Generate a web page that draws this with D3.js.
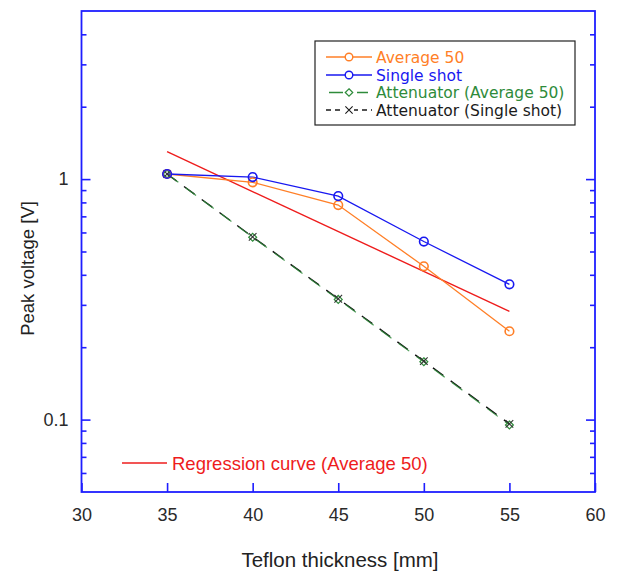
<!DOCTYPE html>
<html>
<head>
<meta charset="utf-8">
<script src="https://cdn.jsdelivr.net/npm/d3@7"></script>
<style>
  html, body { margin: 0; padding: 0; background: #fff; }
  svg { display: block; font-family: "Liberation Sans", Arial, sans-serif; }
</style>
</head>
<body>
<svg id="chart" width="617" height="572"></svg>
<script>
// Teflon thickness [mm]
const thickness = [35, 40, 45, 50, 55];
// Peak voltage [V] for each measurement series
const average50 = [1.05, 0.97, 0.78, 0.434, 0.233];
const singleShot = [1.05, 1.02, 0.85, 0.55, 0.365];
const attenuatorAverage50 = [1.05, 0.573, 0.316, 0.174, 0.095];
const attenuatorSingleShot = [1.05, 0.575, 0.318, 0.175, 0.096];
// Exponential fit to the Average 50 series (end points)
const regressionX = [35, 55];
const regressionY = [1.30, 0.282];

const xTicks = [30, 35, 40, 45, 50, 55, 60];
const yMajorTicks = [0.1, 1];
const yMinorTicks = [0.06, 0.07, 0.08, 0.09, 0.2, 0.3, 0.4, 0.5, 0.6, 0.7, 0.8, 0.9, 2, 3, 4];

const legendLabels = ["Average 50", "Single shot", "Attenuator (Average 50)", "Attenuator (Single shot)"];
const regressionLabel = "Regression curve (Average 50)";

const svg = d3.select("#chart");
const box = { left: 81.5, right: 595, top: 11, bottom: 492 };
const axisColor = "#1e1eff";

const x = d3.scaleLinear().domain([30, 60]).range([box.left, box.right]);
const y = d3.scaleLog().domain([0.05, 5]).range([box.bottom, box.top]);

const pts = (xs, ys) => xs.map((d, i) => [d, ys[i]]);
const line = d3.line().x(d => x(d[0])).y(d => y(d[1]));

// ---- series lines ----
const plot = svg.append("g");

plot.append("path").datum(pts(regressionX, regressionY))
  .attr("d", line).attr("fill", "none").attr("stroke", "#ee1c1c").attr("stroke-width", 1.4);

plot.append("path").datum(pts(thickness, attenuatorSingleShot))
  .attr("d", line).attr("fill", "none").attr("stroke", "#111").attr("stroke-width", 1.4)
  .attr("stroke-dasharray", "13,9").attr("stroke-dashoffset", 1);
plot.append("path").datum(pts(thickness, attenuatorAverage50))
  .attr("d", line).attr("fill", "none").attr("stroke", "#2e8b3a").attr("stroke-width", 1.2)
  .attr("stroke-dasharray", "13,9").attr("stroke-dashoffset", -1).attr("opacity", 0.85);

plot.append("path").datum(pts(thickness, average50))
  .attr("d", line).attr("fill", "none").attr("stroke", "#ff7f27").attr("stroke-width", 1.3);
plot.append("path").datum(pts(thickness, singleShot))
  .attr("d", line).attr("fill", "none").attr("stroke", "#1818f0").attr("stroke-width", 1.3);

// ---- markers ----
function circles(data, color) {
  plot.append("g").selectAll("circle").data(data).join("circle")
    .attr("cx", d => x(d[0])).attr("cy", d => y(d[1])).attr("r", 4.3)
    .attr("fill", "none").attr("stroke", color).attr("stroke-width", 1.6);
}
function diamonds(data, color) {
  plot.append("g").selectAll("path").data(data).join("path")
    .attr("d", d3.symbol(d3.symbolDiamond2, 40))
    .attr("transform", d => `translate(${x(d[0])},${y(d[1])})`)
    .attr("fill", "none").attr("stroke", color).attr("stroke-width", 1.2);
}
function crosses(data, color) {
  plot.append("g").selectAll("path").data(data).join("path")
    .attr("d", d3.symbol(d3.symbolX, 40))
    .attr("transform", d => `translate(${x(d[0])},${y(d[1])})`)
    .attr("fill", "none").attr("stroke", color).attr("stroke-width", 1.1);
}
diamonds(pts(thickness, attenuatorAverage50), "#2e8b3a");
crosses(pts(thickness, attenuatorSingleShot), "#333");
circles(pts(thickness, average50), "#ff7f27");
circles(pts(thickness, singleShot), "#1818f0");

// ---- frame and ticks ----
const frame = svg.append("g");
frame.append("rect")
  .attr("x", box.left).attr("y", box.top)
  .attr("width", box.right - box.left).attr("height", box.bottom - box.top)
  .attr("fill", "none").attr("stroke", axisColor).attr("stroke-width", 1.8);

const bottomAxis = d3.axisBottom(x).tickValues(xTicks).tickSize(-9).tickPadding(16)
  .tickFormat(d3.format("d"));
const gx = svg.append("g").attr("transform", `translate(0,${box.bottom})`).call(bottomAxis);
gx.select(".domain").remove();

const leftMajor = d3.axisLeft(y).tickValues(yMajorTicks).tickSize(-9).tickPadding(13)
  .tickFormat(d => d >= 1 ? d3.format("d")(d) : d3.format(".1f")(d));
const gy = svg.append("g").attr("transform", `translate(${box.left},0)`).call(leftMajor);
gy.select(".domain").remove();
const gyMinor = svg.append("g").attr("transform", `translate(${box.left},0)`)
  .call(d3.axisLeft(y).tickValues(yMinorTicks).tickSize(-5).tickFormat(""));
gyMinor.select(".domain").remove();

const gr = svg.append("g").attr("transform", `translate(${box.right},0)`)
  .call(d3.axisRight(y).tickValues(yMajorTicks).tickSize(-9).tickFormat(""));
gr.select(".domain").remove();
const grMinor = svg.append("g").attr("transform", `translate(${box.right},0)`)
  .call(d3.axisRight(y).tickValues(yMinorTicks).tickSize(-5).tickFormat(""));
grMinor.select(".domain").remove();

svg.selectAll(".tick line").attr("stroke", axisColor).attr("stroke-width", 1.6);
svg.selectAll(".tick text")
  .attr("fill", "#2a2a2a").style("font-size", "18px")
  .style("font-family", "'Liberation Sans', Arial, sans-serif");

// ---- axis titles ----
svg.append("text")
  .attr("x", 340).attr("y", 567)
  .attr("text-anchor", "middle").attr("fill", "#222")
  .style("font-size", "20.5px").text("Teflon thickness [mm]");
svg.append("text")
  .attr("transform", `translate(34,${(box.top + box.bottom) / 2 + 17}) rotate(-90)`)
  .attr("text-anchor", "middle").attr("fill", "#222")
  .style("font-size", "18.5px").text("Peak voltage [V]");

// ---- legend ----
const legend = svg.append("g");
legend.append("rect")
  .attr("x", 315).attr("y", 41).attr("width", 260).attr("height", 84)
  .attr("fill", "#fff").attr("stroke", "#222").attr("stroke-width", 1.2);

const legendColors = ["#ff7f27", "#1818f0", "#2e8b3a", "#1a1a1a"];
const rowY = [57, 75, 92.5, 110];
const sx0 = 326, sx1 = 372, sm = 349;

legendLabels.forEach((label, i) => {
  const g = legend.append("g");
  const c = legendColors[i];
  const yy = rowY[i];
  if (i < 2) {
    g.append("line").attr("x1", sx0).attr("x2", sx1).attr("y1", yy).attr("y2", yy)
      .attr("stroke", c).attr("stroke-width", 1.3);
    g.append("circle").attr("cx", sm).attr("cy", yy).attr("r", 3.8)
      .attr("fill", "#fff").attr("stroke", c).attr("stroke-width", 1.4);
  } else if (i === 2) {
    g.append("line").attr("x1", 329).attr("x2", 368).attr("y1", yy).attr("y2", yy)
      .attr("stroke", c).attr("stroke-width", 1.3).attr("stroke-dasharray", "14,14,11");
    g.append("path").attr("d", d3.symbol(d3.symbolDiamond2, 36))
      .attr("transform", `translate(${sm},${yy})`)
      .attr("fill", "#fff").attr("stroke", c).attr("stroke-width", 1.2);
  } else {
    g.append("line").attr("x1", sx0).attr("x2", sx1).attr("y1", yy).attr("y2", yy)
      .attr("stroke", c).attr("stroke-width", 1.3).attr("stroke-dasharray", "5,4");
    g.append("rect").attr("x", sm - 5).attr("y", yy - 5).attr("width", 10).attr("height", 10).attr("fill", "#fff");
    g.append("path").attr("d", d3.symbol(d3.symbolX, 36))
      .attr("transform", `translate(${sm},${yy})`)
      .attr("fill", "none").attr("stroke", c).attr("stroke-width", 1.1);
  }
  g.append("text").attr("x", 376).attr("y", yy + 5.5)
    .attr("fill", c).style("font-size", "15.5px")
    .style("font-family", "'DejaVu Sans', sans-serif")
    .text(label);
});

// ---- regression label ----
const reg = svg.append("g");
reg.append("line").attr("x1", 122).attr("x2", 167).attr("y1", 463).attr("y2", 463)
  .attr("stroke", "#ee1c1c").attr("stroke-width", 1.4);
reg.append("text").attr("x", 172).attr("y", 470)
  .attr("fill", "#ee1c1c").style("font-size", "18.5px").text(regressionLabel);
</script>
</body>
</html>
